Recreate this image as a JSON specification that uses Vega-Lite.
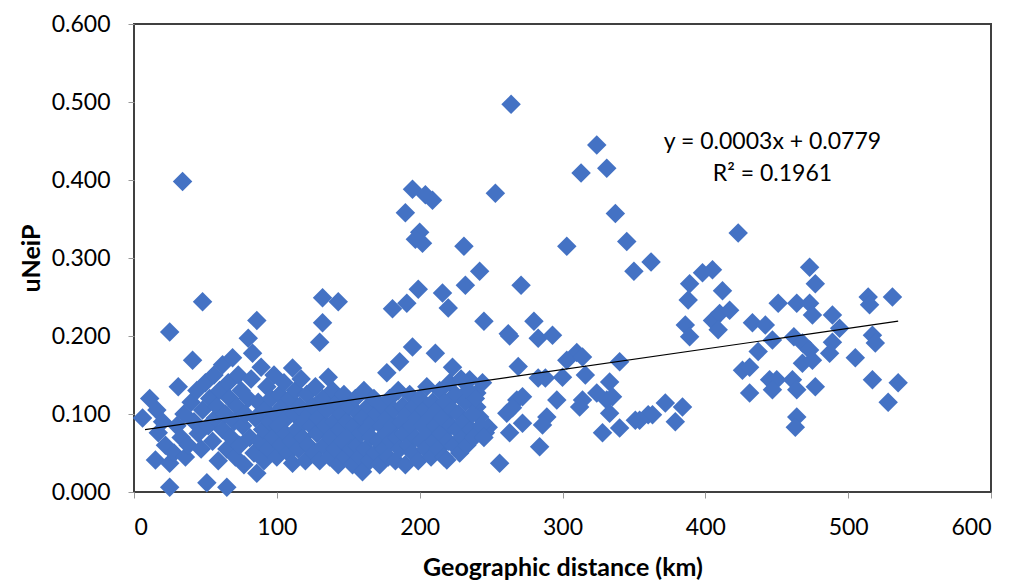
{
"$schema": "https://vega.github.io/schema/vega-lite/v6.json",
"width": 857, "height": 468,
"autosize": "none",
"padding": {"left": 134, "top": 24, "right": 36, "bottom": 89},
"background": "white",
"config": {"view": {"stroke": "#404040", "strokeWidth": 2}, "font": "Lato"},
"datasets": {
"points": [
{"x":34,"y":0.398},{"x":264,"y":0.497},{"x":324,"y":0.445},{"x":313,"y":0.409},{"x":331,"y":0.415},{"x":195,"y":0.388},{"x":204,"y":0.381},{"x":209,"y":0.374},{"x":253,"y":0.383},{"x":190,"y":0.358},{"x":337,"y":0.357},{"x":345,"y":0.321},{"x":303,"y":0.315},{"x":362,"y":0.295},{"x":350,"y":0.283},{"x":423,"y":0.332},{"x":231,"y":0.315},{"x":200,"y":0.333},{"x":197,"y":0.324},{"x":202,"y":0.319},{"x":242,"y":0.283},{"x":271,"y":0.265},{"x":232,"y":0.265},{"x":216,"y":0.255},{"x":199,"y":0.260},{"x":191,"y":0.242},{"x":181,"y":0.235},{"x":220,"y":0.236},{"x":48,"y":0.244},{"x":132,"y":0.249},{"x":143,"y":0.244},{"x":132,"y":0.217},{"x":130,"y":0.192},{"x":25,"y":0.205},{"x":86,"y":0.220},{"x":80,"y":0.197},{"x":245,"y":0.219},{"x":262,"y":0.203},
{"x":280,"y":0.219},{"x":263,"y":0.200},{"x":283,"y":0.197},{"x":293,"y":0.201},{"x":269,"y":0.161},{"x":310,"y":0.179},{"x":303,"y":0.169},{"x":314,"y":0.173},{"x":340,"y":0.167},{"x":283,"y":0.146},{"x":288,"y":0.146},{"x":300,"y":0.147},{"x":316,"y":0.150},{"x":333,"y":0.141},{"x":296,"y":0.118},{"x":314,"y":0.118},{"x":312,"y":0.109},{"x":324,"y":0.127},{"x":331,"y":0.118},{"x":335,"y":0.122},{"x":333,"y":0.101},{"x":268,"y":0.118},{"x":272,"y":0.122},{"x":261,"y":0.101},{"x":265,"y":0.108},{"x":272,"y":0.088},{"x":289,"y":0.096},{"x":286,"y":0.086},{"x":263,"y":0.076},{"x":246,"y":0.076},{"x":248,"y":0.083},{"x":284,"y":0.058},{"x":256,"y":0.037},{"x":328,"y":0.076},{"x":340,"y":0.082},{"x":351,"y":0.092},{"x":360,"y":0.099},{"x":240,"y":0.127},{"x":240,"y":0.109},{"x":242,"y":0.096},{"x":235,"y":0.144},
{"x":388,"y":0.246},{"x":386,"y":0.214},{"x":389,"y":0.199},{"x":405,"y":0.220},{"x":410,"y":0.229},{"x":417,"y":0.233},{"x":409,"y":0.208},{"x":451,"y":0.242},{"x":464,"y":0.242},{"x":473,"y":0.242},{"x":475,"y":0.227},{"x":433,"y":0.217},{"x":442,"y":0.214},{"x":447,"y":0.195},{"x":437,"y":0.180},{"x":462,"y":0.199},{"x":468,"y":0.191},{"x":473,"y":0.182},{"x":468,"y":0.165},{"x":475,"y":0.169},{"x":426,"y":0.156},{"x":431,"y":0.160},{"x":431,"y":0.127},{"x":445,"y":0.144},{"x":450,"y":0.144},{"x":447,"y":0.131},{"x":461,"y":0.144},{"x":464,"y":0.131},{"x":477,"y":0.135},{"x":372,"y":0.114},{"x":384,"y":0.109},{"x":363,"y":0.099},{"x":379,"y":0.090},{"x":354,"y":0.092},{"x":464,"y":0.096},{"x":463,"y":0.083},
{"x":398,"y":0.281},{"x":405,"y":0.285},{"x":389,"y":0.267},{"x":412,"y":0.258},{"x":473,"y":0.288},{"x":477,"y":0.267},{"x":514,"y":0.250},{"x":531,"y":0.250},
{"x":489,"y":0.227},{"x":515,"y":0.240},{"x":494,"y":0.210},{"x":517,"y":0.201},{"x":519,"y":0.191},{"x":489,"y":0.192},{"x":487,"y":0.178},{"x":505,"y":0.172},{"x":517,"y":0.144},{"x":535,"y":0.140},{"x":528,"y":0.115},
{"x":6,"y":0.095},{"x":11,"y":0.120},{"x":16,"y":0.105},{"x":17,"y":0.076},{"x":15,"y":0.041},{"x":25,"y":0.037},{"x":25,"y":0.006},{"x":20,"y":0.090},{"x":22,"y":0.060},{"x":28,"y":0.050},{"x":30,"y":0.085},{"x":31,"y":0.135},{"x":33,"y":0.070},{"x":35,"y":0.100},{"x":36,"y":0.045},{"x":38,"y":0.060},{"x":40,"y":0.115},{"x":41,"y":0.169},{"x":42,"y":0.090},{"x":44,"y":0.130},{"x":45,"y":0.075},{"x":47,"y":0.055},{"x":48,"y":0.105},{"x":50,"y":0.140},{"x":51,"y":0.012},{"x":52,"y":0.085},{"x":53,"y":0.120},{"x":55,"y":0.065},{"x":56,"y":0.150},{"x":57,"y":0.095},{"x":58,"y":0.110},{"x":59,"y":0.040},{"x":60,"y":0.130},{"x":62,"y":0.163},{"x":62,"y":0.080},{"x":64,"y":0.100},{"x":65,"y":0.006},{"x":65,"y":0.055},{"x":66,"y":0.140},{"x":67,"y":0.120},{"x":68,"y":0.070},{"x":69,"y":0.172},{"x":70,"y":0.090},{"x":71,"y":0.045},{"x":72,"y":0.110},{"x":73,"y":0.150},{"x":74,"y":0.060},{"x":75,"y":0.130},{"x":76,"y":0.085},{"x":77,"y":0.035},{"x":78,"y":0.100},{"x":80,"y":0.120},{"x":81,"y":0.070},{"x":82,"y":0.145},{"x":83,"y":0.178},{"x":84,"y":0.050},{"x":85,"y":0.095},{"x":86,"y":0.024},{"x":87,"y":0.115},{"x":88,"y":0.065},{"x":89,"y":0.160},{"x":90,"y":0.080},{"x":91,"y":0.040},{"x":92,"y":0.105},{"x":93,"y":0.135},{"x":94,"y":0.055},{"x":95,"y":0.090},{"x":96,"y":0.120},{"x":97,"y":0.070},{"x":98,"y":0.150},{"x":99,"y":0.100},{"x":100,"y":0.045},{"x":101,"y":0.085},{"x":102,"y":0.125},{"x":103,"y":0.060},{"x":104,"y":0.110},{"x":105,"y":0.140},{"x":106,"y":0.075},{"x":107,"y":0.095},{"x":108,"y":0.050},{"x":109,"y":0.120},{"x":110,"y":0.065},{"x":111,"y":0.159},{"x":111,"y":0.037},{"x":112,"y":0.100},{"x":113,"y":0.130},{"x":114,"y":0.080},{"x":115,"y":0.055},{"x":116,"y":0.110},{"x":117,"y":0.145},{"x":118,"y":0.070},{"x":119,"y":0.090},{"x":120,"y":0.040},{"x":121,"y":0.125},{"x":122,"y":0.060},{"x":123,"y":0.100},{"x":124,"y":0.085},
{"x":125,"y":0.110},{"x":126,"y":0.050},{"x":127,"y":0.135},{"x":128,"y":0.075},{"x":129,"y":0.095},{"x":130,"y":0.040},{"x":132,"y":0.120},{"x":133,"y":0.060},{"x":134,"y":0.085},{"x":135,"y":0.105},{"x":136,"y":0.147},{"x":137,"y":0.045},{"x":138,"y":0.070},{"x":139,"y":0.130},{"x":140,"y":0.090},{"x":141,"y":0.055},{"x":142,"y":0.115},{"x":143,"y":0.035},{"x":144,"y":0.080},{"x":145,"y":0.100},{"x":146,"y":0.065},{"x":147,"y":0.125},{"x":148,"y":0.045},{"x":149,"y":0.090},{"x":150,"y":0.070},{"x":151,"y":0.110},{"x":152,"y":0.055},{"x":153,"y":0.035},{"x":154,"y":0.085},{"x":155,"y":0.120},{"x":156,"y":0.060},{"x":157,"y":0.100},{"x":158,"y":0.045},{"x":159,"y":0.075},{"x":160,"y":0.026},{"x":160,"y":0.095},{"x":161,"y":0.130},{"x":162,"y":0.055},{"x":163,"y":0.080},{"x":164,"y":0.110},{"x":165,"y":0.040},{"x":166,"y":0.070},{"x":167,"y":0.090},{"x":168,"y":0.120},{"x":169,"y":0.050},{"x":170,"y":0.100},{"x":171,"y":0.065},{"x":172,"y":0.035},{"x":173,"y":0.085},{"x":174,"y":0.110},{"x":175,"y":0.055},{"x":176,"y":0.075},{"x":177,"y":0.153},{"x":177,"y":0.095},{"x":178,"y":0.045},{"x":179,"y":0.120},{"x":180,"y":0.065},{"x":181,"y":0.085},{"x":182,"y":0.105},{"x":183,"y":0.040},{"x":184,"y":0.070},{"x":185,"y":0.130},{"x":186,"y":0.167},{"x":186,"y":0.055},{"x":187,"y":0.090},{"x":188,"y":0.110},{"x":189,"y":0.075},{"x":190,"y":0.035},{"x":191,"y":0.100},{"x":192,"y":0.060},{"x":193,"y":0.125},{"x":194,"y":0.085},{"x":195,"y":0.186},{"x":195,"y":0.050},{"x":196,"y":0.110},{"x":197,"y":0.070},{"x":198,"y":0.095},{"x":199,"y":0.040},{"x":200,"y":0.120},{"x":201,"y":0.065},{"x":202,"y":0.085},{"x":203,"y":0.105},{"x":204,"y":0.055},{"x":205,"y":0.135},{"x":206,"y":0.075},{"x":207,"y":0.095},{"x":208,"y":0.045},{"x":209,"y":0.115},{"x":210,"y":0.065},{"x":211,"y":0.178},{"x":211,"y":0.085},{"x":212,"y":0.105},{"x":213,"y":0.055},{"x":214,"y":0.130},{"x":215,"y":0.075},{"x":216,"y":0.095},{"x":217,"y":0.045},{"x":218,"y":0.115},{"x":219,"y":0.041},{"x":220,"y":0.065},{"x":221,"y":0.140},{"x":222,"y":0.085},{"x":223,"y":0.160},{"x":223,"y":0.105},{"x":224,"y":0.060},{"x":225,"y":0.125},{"x":226,"y":0.080},{"x":227,"y":0.100},{"x":228,"y":0.050},{"x":229,"y":0.145},{"x":230,"y":0.070},{"x":231,"y":0.090},{"x":232,"y":0.115},{"x":233,"y":0.060},{"x":234,"y":0.130},{"x":236,"y":0.080},{"x":237,"y":0.100},{"x":238,"y":0.070},{"x":239,"y":0.120},{"x":243,"y":0.085},{"x":244,"y":0.140},{"x":245,"y":0.070}
],
"trend": [{"x":7.7,"y":0.080},{"x":535,"y":0.219}]
},
"layer": [
{"data": {"name": "points"},
 "mark": {"type": "point", "shape": "diamond", "filled": true, "size": 380, "color": "#4472C4", "opacity": 1},
 "encoding": {
  "x": {"field": "x", "type": "quantitative", "scale": {"domain": [0, 600], "nice": false},
   "axis": {"title": "Geographic distance (km)", "values": [0,100,200,300,400,500,600], "grid": false, "domain": false,
    "tickColor": "#999999", "tickSize": 6, "labelPadding": 18, "labelFontSize": 23, "labelColor": "#000000", "labelFont": "Lato",
    "titleFontSize": 25, "titleFontWeight": "bold", "titleColor": "#000000", "titleFont": "Lato", "titlePadding": 16}},
  "y": {"field": "y", "type": "quantitative", "scale": {"domain": [0, 0.6], "nice": false},
   "axis": {"title": "uNeiP", "values": [0,0.1,0.2,0.3,0.4,0.5,0.6], "format": ".3f", "grid": false, "domain": false,
    "tickColor": "#999999", "tickSize": 6, "labelPadding": 18, "labelFontSize": 23, "labelColor": "#000000", "labelFont": "Lato",
    "titleFontSize": 25, "titleFontWeight": "bold", "titleColor": "#000000", "titleFont": "Lato", "titlePadding": 7}}
 }},
{"data": {"name": "trend"},
 "mark": {"type": "line", "color": "#000000", "strokeWidth": 1.2},
 "encoding": {"x": {"field": "x", "type": "quantitative"}, "y": {"field": "y", "type": "quantitative"}}},
{"data": {"values": [{"label": "eq"}]},
 "mark": {"type": "text", "font": "Lato", "fontSize": 23, "lineHeight": 32, "align": "center", "baseline": "middle", "color": "#000000"},
 "encoding": {"x": {"datum": 447}, "y": {"datum": 0.449}, "text": {"value": ["y = 0.0003x + 0.0779", "R² = 0.1961"]}}}
]
}
